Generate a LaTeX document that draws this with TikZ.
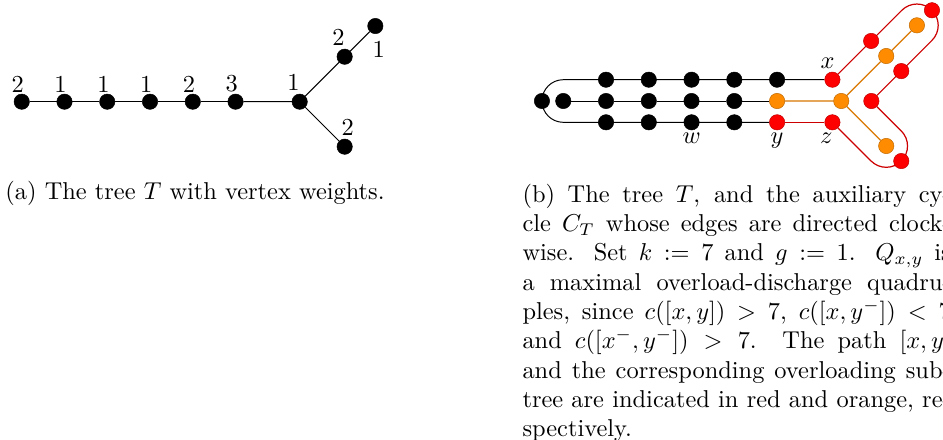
\documentclass[tikz,border=0pt]{standalone}
\usepackage{amsmath}
\usetikzlibrary{positioning, calc, backgrounds}
\definecolor{vred}{HTML}{FF0000}
\definecolor{vorange}{HTML}{FF8C00}

\begin{document}
\begin{tikzpicture}[
  vtx/.style={circle, inner sep=0pt, minimum size=6.3pt, fill=#1,
              draw=#1!75!black, line width=0.2pt},
  vtx/.default=black,
  lbl/.style={inner sep=1pt},
  tedge/.style={black, line width=0.4pt},
  redge/.style={vred!80!black, line width=0.5pt},
  oedge/.style={vorange!85!black, line width=0.5pt}]
  \useasboundingbox (0,0) rectangle (13.584,-6.338);

  % (a) the tree with its weights
  \begin{scope}[shift={(0.313,-1.465)}]
    \foreach \w [count=\i from 1] in {2,1,1,1,2,3}{%
      \node[vtx, label={[lbl, label distance=-0.5pt, xshift=-1.6pt]above:\w}]
        (a\i) at ({0.616*(\i-1)},0) {};}
    \node[vtx, label={[lbl, xshift=-2.5pt]above:1}] (ab) at (4.004,0) {};
    \node[vtx, label={[lbl, xshift=-2.5pt]above:2}] (au1) at ($(ab)+(0.648,0.648)$) {};
    \node[vtx, label={[lbl, label distance=1.6pt, xshift=1.4pt]below:1}] (au2) at ($(au1)+(0.442,0.442)$) {};
    \node[vtx, label={[lbl, xshift=1.2pt]above:2}] (al) at ($(ab)+(0.648,-0.648)$) {};
    \foreach \i [remember=\i as \j (initially 1)] in {2,...,6}
      \draw[tedge] (a\j) -- (a\i);
    \draw[tedge] (a6) -- (ab) -- (au1) -- (au2);
    \draw[tedge] (ab) -- (al);
  \end{scope}

  % (b) the tree inside the cycle C_T
  \begin{scope}[shift={(8.114,-1.455)}]
    % tree
    \foreach \i in {1,...,5}
      \node[vtx] (b\i) at ({0.616*(\i-1)},0) {};
    \node[vtx=vorange] (b6) at (3.080,0) {};
    \node[vtx=vorange] (bb) at (4.004,0) {};
    \node[vtx=vorange] (bu1) at ($(bb)+(0.648,0.648)$) {};
    \node[vtx=vorange] (bu2) at ($(bu1)+(0.442,0.442)$) {};
    \node[vtx=vorange] (bl) at ($(bb)+(0.648,-0.648)$) {};
    % cycle vertices
    \node[vtx] (cl) at (-0.307,0) {};
    \foreach \i in {2,...,6}
      \node[vtx] (ct\i) at ({0.616*(\i-1)},0.307) {};
    \foreach \i in {2,3,5}
      \node[vtx] (cb\i) at ({0.616*(\i-1)},-0.307) {};
    \node[vtx, label={[lbl]below:$w$}] (cb4) at (1.848,-0.307) {};
    \node[vtx=vred, label={[lbl]below:$y$}] (cb6) at (3.080,-0.307) {};
    \node[vtx=vred, label={[lbl, xshift=-2pt]above:$x$}] (cx) at (3.877,0.307) {};
    \node[vtx=vred, label={[lbl, xshift=-2.5pt]below:$z$}] (cz) at (3.877,-0.307) {};
    \node[vtx=vred] (cr) at ($(bb)+(0.434,0)$) {};
    \node[vtx=vred] (cu1a) at ($(bu1)+(-0.217,0.217)$) {};
    \node[vtx=vred] (cu1b) at ($(bu1)+(0.217,-0.217)$) {};
    \node[vtx=vred] (cu2) at ($(bu2)+(0.217,0.217)$) {};
    \node[vtx=vred] (cl2) at ($(bl)+(0.217,-0.217)$) {};
    % corners of the cycle
    \coordinate (kTL) at (-0.307,0.307);
    \coordinate (kBL) at (-0.307,-0.307);
    \coordinate (kUa) at ($(bu2)+(0,0.434)$);
    \coordinate (kUb) at ($(bu2)+(0.434,0)$);
    \coordinate (kLa) at ($(bl)+(0.434,0)$);
    \coordinate (kLb) at ($(bl)+(0,-0.434)$);
    \begin{pgfonlayer}{background}
      \foreach \i [remember=\i as \j (initially 1)] in {2,...,6}
        \draw[tedge] (b\j) -- (b\i);
      \draw[oedge] (b6) -- (bb) -- (bu1) -- (bu2);
      \draw[oedge] (bb) -- (bl);
      \draw[tedge, rounded corners=0.307cm] (cx) -- (kTL) -- (kBL) -- (cb6);
      \draw[redge] (cb6) -- (cz);
      \draw[redge, rounded corners=0.307cm] (cz) -- (kLb) -- (kLa) -- (cr);
      \draw[redge, rounded corners=0.307cm] (cr) -- (kUb) -- (kUa) -- (cx);
    \end{pgfonlayer}
  \end{scope}

  % captions
  \node[anchor=base west, inner sep=0pt] (capa) at (0.072,-2.868)
    {(a) The tree $T$ with vertex weights.};
  \node[anchor=north west, inner sep=0pt, text width=175.5pt, align=justify] (capb)
    at (7.52,-2.645) {\tolerance=10000\hyphenpenalty=10000
    (b) The tree $T$, and the auxiliary cy-\linebreak
    cle $C_T$ whose edges are directed clock-\linebreak
    wise. Set $k := 7$ and $g := 1$. $Q_{x,y}$ is\linebreak
    a maximal overload-discharge quadru-\linebreak
    ples, since $c([x,y]) > 7$, $c([x,y^-]) < 7$\linebreak
    and $c([x^-,y^-]) > 7$. The path $[x,y]$\linebreak
    and the corresponding overloading sub-\linebreak
    tree are indicated in red and orange, re-\linebreak
    spectively.};
\end{tikzpicture}
\end{document}
